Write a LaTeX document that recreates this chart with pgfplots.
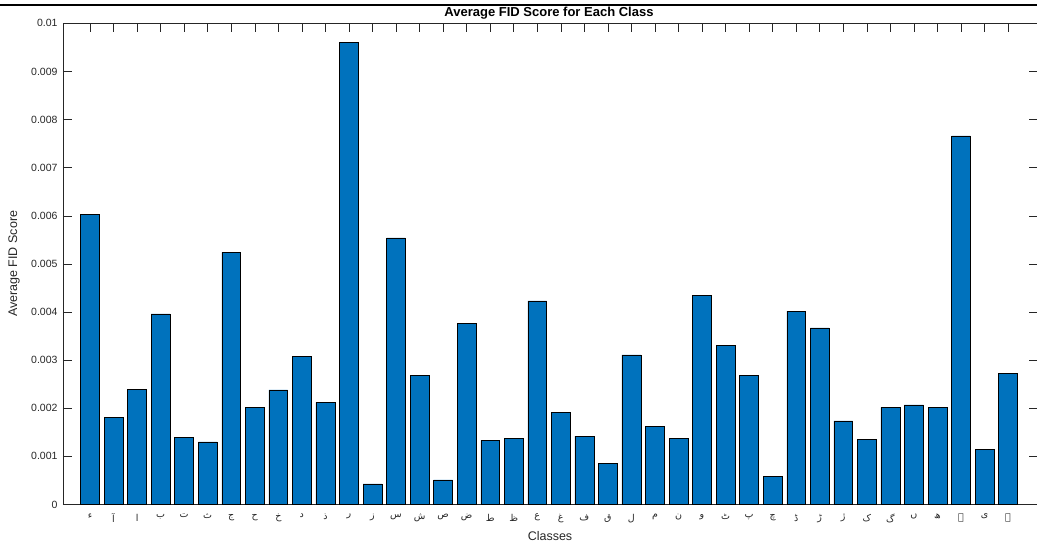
\documentclass[border=0pt]{standalone}
\usepackage{pgfplots}
\pgfplotsset{compat=1.18}
\usepackage{fontspec}
\setmainfont{Liberation Sans}
\newfontfamily\arabicfont[Script=Arabic]{DejaVu Sans}
\TeXXeTstate=1
\definecolor{mblue}{HTML}{0072BD}
\definecolor{axgray}{HTML}{262626}

\pgfplotstableread{
x y
1 0.00603
2 0.00181
3 0.00239
4 0.00396
5 0.00140
6 0.00130
7 0.00524
8 0.00202
9 0.00238
10 0.00308
11 0.00212
12 0.00961
13 0.00043
14 0.00554
15 0.00268
16 0.00051
17 0.00377
18 0.00133
19 0.00137
20 0.00423
21 0.00191
22 0.00142
23 0.00085
24 0.00311
25 0.00162
26 0.00137
27 0.00434
28 0.00330
29 0.00268
30 0.00059
31 0.00402
32 0.00367
33 0.00174
34 0.00135
35 0.00202
36 0.00207
37 0.00202
38 0.00766
39 0.00114
40 0.00272
}\fiddata

\begin{document}
\begin{tikzpicture}
\useasboundingbox (-63pt,-38.5pt) rectangle (974pt,504.5pt);
\draw[line width=1.5pt, black] (-63pt,499.5pt) -- (974pt,499.5pt);
\begin{axis}[
  at={(0,0)}, anchor=south west,
  scale only axis, width=974pt, height=481.2pt,
  ybar, bar width=0.8,
  xmin=-0.147, xmax=41.23,
  ymin=0, ymax=0.01,
  axis line style={axgray, line width=0.5pt},
  tick style={axgray, line width=0.5pt},
  tick align=inside,
  major tick length=8.5pt,
  xtick={1,...,40},
  xticklabels={ء,آ,ا,ب,ت,ث,ج,ح,خ,د,ذ,ر,ز,س,ش,ص,ض,ط,ظ,ع,غ,ف,ق,ل,م,ن,و,ٹ,پ,چ,ڈ,ڑ,ژ,ک,گ,ں,ھ,ہ,ی,ے},
  xticklabel style={font=\arabicfont\fontsize{9.5}{10}\selectfont, text=axgray, yshift=-6pt},
  ytick={0,0.001,0.002,0.003,0.004,0.005,0.006,0.007,0.008,0.009,0.01},
  yticklabels={0,0.001,0.002,0.003,0.004,0.005,0.006,0.007,0.008,0.009,0.01},
  yticklabel style={font=\fontsize{10.5}{12}\selectfont, text=axgray, xshift=-2pt},
  scaled y ticks=false,
  title={Average FID Score for Each Class},
  every axis title/.style={at={(0.5,1)}, anchor=south, yshift=0.5pt, xshift=-1pt,
    font=\bfseries\fontsize{13}{14}\selectfont},
  xlabel={Classes},
  every axis x label/.style={at={(0.5,0)}, anchor=center, yshift=-31.5pt,
    font=\fontsize{12.5}{14}\selectfont, text=axgray},
  ylabel={Average FID Score},
  every axis y label/.style={at={(0,0.5)}, anchor=center, xshift=-49pt, rotate=90,
    font=\fontsize{12.5}{14}\selectfont, text=axgray},
]
\addplot[fill=mblue, draw=black, line width=0.5pt] table[x=x, y=y] {\fiddata};
\end{axis}
\end{tikzpicture}
\end{document}
